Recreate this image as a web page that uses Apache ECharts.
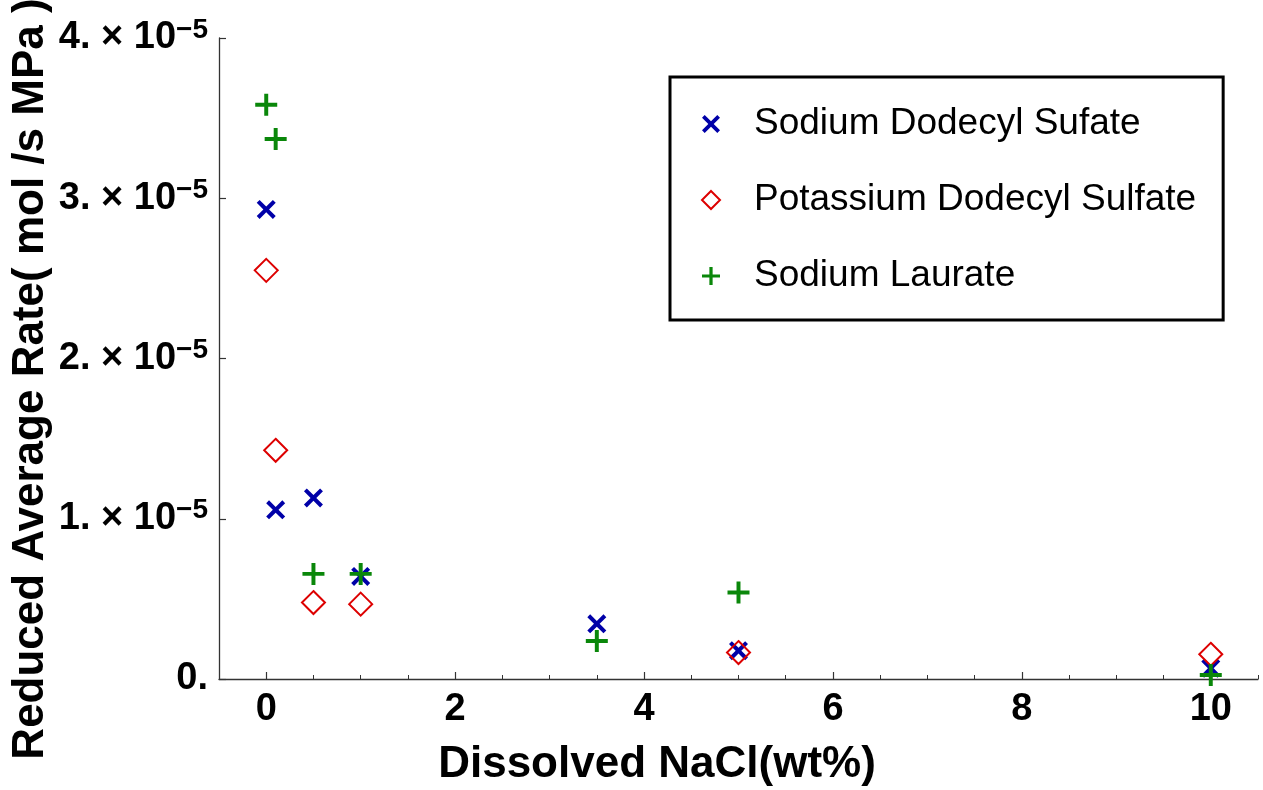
<!DOCTYPE html>
<html><head><meta charset="utf-8">
<script src="https://cdn.jsdelivr.net/npm/echarts@6/dist/echarts.min.js"></script>
<style>html,body{margin:0;padding:0;background:#fff}#c{width:1263px;height:790px}</style>
</head><body><div id="c"></div>
<script>
// ---- data ----
const seriesNames = ['Sodium Dodecyl Sufate', 'Potassium Dodecyl Sulfate', 'Sodium Laurate'];
const sdsX = [0, 0.1, 0.5, 1, 3.5, 5, 10];
const sdsY = [2.93e-5, 1.056e-5, 1.13e-5, 0.64e-5, 0.344e-5, 0.177e-5, 0.067e-5];
const pdsX = [0, 0.1, 0.5, 1, 5, 10];
const pdsY = [2.55e-5, 1.427e-5, 0.477e-5, 0.467e-5, 0.165e-5, 0.154e-5];
const slX = [0, 0.1, 0.5, 1, 3.5, 5, 10];
const slY = [3.583e-5, 3.37e-5, 0.656e-5, 0.656e-5, 0.2375e-5, 0.54e-5, 0.025e-5];
const xTickValues = [0, 2, 4, 6, 8, 10];
const xTickLabels = ['0', '2', '4', '6', '8', '10'];
const yTickValues = [0, 1e-5, 2e-5, 3e-5, 4e-5];
const yTickMantissa = ['0.', '1.', '2.', '3.', '4.'];
const yTickExponent = ['', '−5', '−5', '−5', '−5'];
const xTitle = 'Dissolved NaCl(wt%)';
const yTitle = 'Reduced Average Rate( mol /s MPa )';

// ---- symbols ----
const X_PATH = 'path://M0,15L15,0L50,35L85,0L100,15L65,50L100,85L85,100L50,65L15,100L0,85L35,50Z';
const PLUS_PATH = 'path://M41,0H59V41H100V59H59V100H41V59H0V41H41Z';
const DIAMOND_PATH = 'path://M50,0L100,50L50,100L0,50Z';

const FONT = 'Liberation Sans, Arial, sans-serif';
const AXIS_COLOR = '#333';

const chart = echarts.init(document.getElementById('c'), null, {renderer: 'canvas'});
const pairs = (xs, ys) => xs.map((x, i) => [x, ys[i]]);

chart.setOption({
  animation: false,
  backgroundColor: '#fff',
  grid: {left: 219, right: 5, top: 38, bottom: 111, containLabel: false},
  xAxis: [{
    type: 'value', min: -0.5, max: 10.5,
    axisLine: {show: true, onZero: false, lineStyle: {color: AXIS_COLOR, width: 1.3}},
    axisTick: {show: true, inside: true, length: 7, customValues: xTickValues, lineStyle: {color: AXIS_COLOR, width: 1.2}},
    axisLabel: {
      customValues: xTickValues,
      formatter: v => xTickLabels[xTickValues.indexOf(Math.round(v))],
      fontSize: 38, fontWeight: 'bold', color: '#000', fontFamily: FONT, margin: 12
    },
    splitLine: {show: false}
  }, {
    type: 'value', min: -0.5, max: 10.5, interval: 0.5, position: 'bottom',
    axisLine: {show: false},
    axisTick: {show: true, inside: true, length: 4, lineStyle: {color: AXIS_COLOR, width: 1}},
    axisLabel: {show: false},
    splitLine: {show: false}
  }],
  yAxis: {
    type: 'value', min: 0, max: 4e-5, interval: 1e-5,
    axisLine: {show: true, onZero: false, lineStyle: {color: AXIS_COLOR, width: 1.3}},
    axisTick: {show: true, inside: true, length: 7, lineStyle: {color: AXIS_COLOR, width: 1.2}},
    axisLabel: {
      margin: 11,
      formatter: v => {
        const i = Math.round(v / 1e-5);
        const m = yTickMantissa[i];
        const e = yTickExponent[i];
        return e ? '{a|' + m + ' × 10}{b|' + e + '}' : '{a|' + m + '}';
      },
      rich: {
        a: {fontSize: 38, fontWeight: 'bold', color: '#000', fontFamily: FONT, lineHeight: 44},
        b: {fontSize: 28, fontWeight: 'bold', color: '#000', fontFamily: FONT, verticalAlign: 'top', lineHeight: 26}
      }
    },
    splitLine: {show: false}
  },
  legend: {
    orient: 'vertical', left: 670, top: 77,
    padding: [27, 27, 24, 31], itemGap: 36, itemWidth: 76, itemHeight: 18,
    selectedMode: false,
    textStyle: {fontSize: 37, fontFamily: FONT, color: '#000', lineHeight: 40},
    borderColor: '#000', borderWidth: 3, backgroundColor: '#fff',
    data: seriesNames
  },
  graphic: [
    {type: 'text', x: 657, y: 765, style: {text: xTitle, font: 'bold 44px ' + FONT, fill: '#000', align: 'center', verticalAlign: 'middle'}},
    {type: 'text', x: 31, y: 379, rotation: Math.PI / 2, style: {text: yTitle, font: 'bold 44px ' + FONT, fill: '#000', align: 'center', verticalAlign: 'middle'}}
  ],
  series: [
    {name: seriesNames[0], type: 'scatter', data: pairs(sdsX, sdsY), symbol: X_PATH, symbolSize: 19,
     itemStyle: {color: '#0000a8', opacity: 1}, emphasis: {disabled: true}},
    {name: seriesNames[1], type: 'scatter', data: pairs(pdsX, pdsY), symbol: DIAMOND_PATH, symbolSize: 23,
     itemStyle: {color: 'rgba(255,255,255,0)', borderColor: '#dd0000', borderWidth: 2, opacity: 1}, emphasis: {disabled: true}},
    {name: seriesNames[2], type: 'scatter', data: pairs(slX, slY), symbol: PLUS_PATH, symbolSize: 22,
     itemStyle: {color: '#0a870a', opacity: 1}, emphasis: {disabled: true}}
  ]
});
</script></body></html>
